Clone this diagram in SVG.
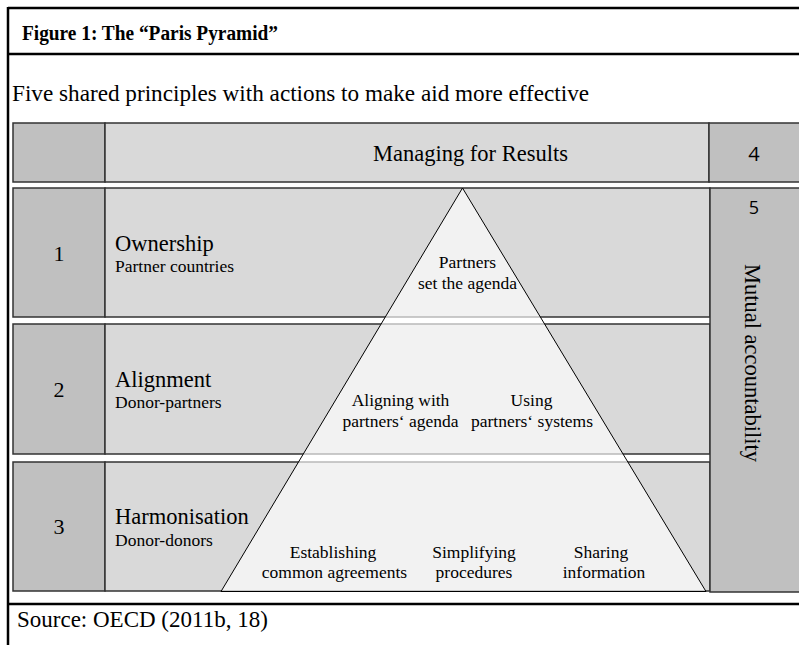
<svg xmlns="http://www.w3.org/2000/svg" width="799" height="645" viewBox="0 0 799 645">
<style>
.t{font-family:"Liberation Serif","Times New Roman",serif;fill:#000}
.s{font-family:"Open Sans","DejaVu Sans",sans-serif;fill:#000}
.dk{fill:#c0c0c0;stroke:#333;stroke-width:1.5}
.lt{fill:#d9d9d9;stroke:#333;stroke-width:1.5}
.frame{stroke:#000;stroke-width:2.5;fill:none}
</style>
<rect width="799" height="645" fill="#fff"/>
<g id="frame">
<line class="frame" x1="8" y1="8" x2="800" y2="8"/>
<line class="frame" x1="8" y1="54" x2="800" y2="54"/>
<line class="frame" x1="8" y1="604" x2="800" y2="604"/>
<line class="frame" x1="8" y1="7" x2="8" y2="646"/>
<text class="t" x="22" y="39.5" font-size="20.5" font-weight="bold" textLength="256" lengthAdjust="spacingAndGlyphs">Figure 1: The “Paris Pyramid”</text>
<text class="t" x="12" y="101" font-size="23.2">Five shared principles with actions to make aid more effective</text>
<text class="t" x="17" y="627" font-size="23">Source: OECD (2011b, 18)</text>
</g>
<g id="row-mfr">
<rect class="dk" x="13" y="123" width="92" height="59"/>
<rect class="lt" x="105" y="123" width="604" height="59"/>
<rect class="dk" x="709" y="123" width="95" height="59"/>
<text class="t" x="470.5" y="161" font-size="22.5" text-anchor="middle">Managing for Results</text>
<text class="s" x="754" y="161" font-size="20" text-anchor="middle">4</text>
</g>
<g id="row-1">
<rect class="dk" x="13" y="188" width="92" height="129"/>
<rect class="lt" x="105" y="188" width="605" height="129"/>
<text class="t" x="59" y="261" font-size="22" text-anchor="middle">1</text>
<text class="t" x="115" y="251" font-size="22.5">Ownership</text>
<text class="t" x="115" y="272" font-size="17.5">Partner countries</text>
</g>
<g id="row-2">
<rect class="dk" x="13" y="324" width="92" height="130"/>
<rect class="lt" x="105" y="324" width="605" height="130"/>
<text class="t" x="59" y="397" font-size="22" text-anchor="middle">2</text>
<text class="t" x="115" y="387" font-size="22.5">Alignment</text>
<text class="t" x="115" y="408" font-size="17.5">Donor-partners</text>
</g>
<g id="row-3">
<rect class="dk" x="13" y="462" width="92" height="129"/>
<rect class="lt" x="105" y="462" width="605" height="129"/>
<text class="t" x="59" y="534" font-size="22" text-anchor="middle">3</text>
<text class="t" x="115" y="524" font-size="22.5">Harmonisation</text>
<text class="t" x="115" y="546" font-size="17.5">Donor-donors</text>
</g>
<g id="col-5">
<rect class="dk" x="710" y="188" width="95" height="404"/>
<text class="s" x="754" y="214" font-size="18" text-anchor="middle">5</text>
<text class="t" transform="translate(745,363) rotate(90)" font-size="22.5" text-anchor="middle">Mutual accountability</text>
</g>
<g id="pyramid">
<polygon points="462.5,188 221,591.5 706,591.5" fill="#fff" fill-opacity="0.66" stroke="#000" stroke-width="1"/>
<g class="t" font-size="17.5" text-anchor="middle">
<text x="467.5" y="268">Partners</text>
<text x="467.5" y="289">set the agenda</text>
<text x="400.5" y="406">Aligning with</text>
<text x="400.5" y="427">partners‘ agenda</text>
<text x="531.5" y="406">Using</text>
<text x="532" y="427">partners‘ systems</text>
<text x="333" y="558">Establishing</text>
<text x="334.5" y="578">common agreements</text>
<text x="474" y="558">Simplifying</text>
<text x="474" y="578">procedures</text>
<text x="601" y="558">Sharing</text>
<text x="604" y="578">information</text>
</g>
</g>
</svg>
